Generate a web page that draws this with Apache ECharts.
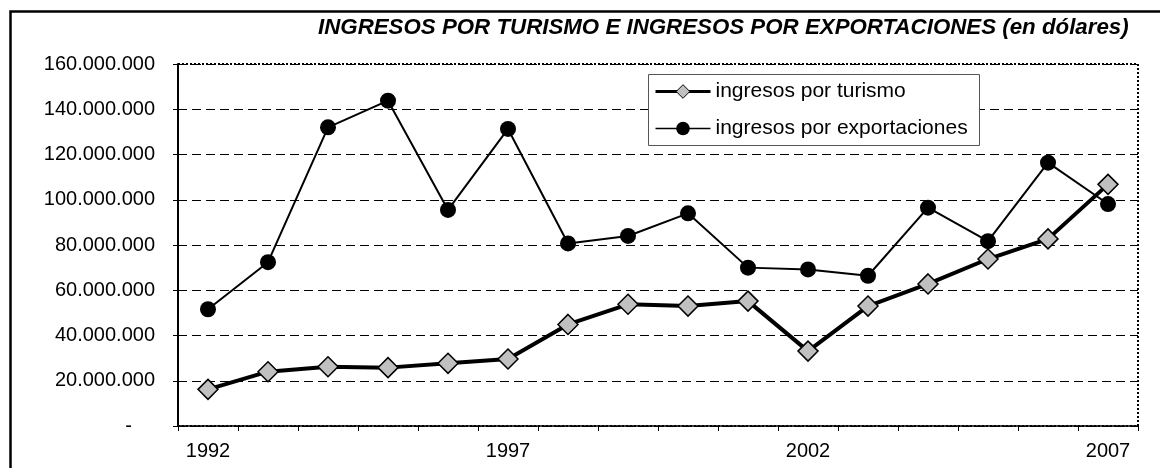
<!DOCTYPE html>
<html>
<head>
<meta charset="utf-8">
<script src="https://cdn.jsdelivr.net/npm/echarts@6/dist/echarts.min.js"></script>
<style>
html,body{margin:0;padding:0;background:#fff;}
#chart{width:1160px;height:468px;}
</style>
</head>
<body>
<div id="chart"></div>
<script>
const categories = ['1992','1993','1994','1995','1996','1997','1998','1999','2000','2001','2002','2003','2004','2005','2006','2007'];
const turismo = [16200000,24000000,26200000,25800000,27700000,29600000,44900000,53800000,53000000,55200000,33100000,53000000,62800000,73800000,82700000,106800000];
const exportaciones = [51600000,72400000,132000000,143800000,95500000,131300000,80700000,84000000,94000000,70000000,69200000,66400000,96500000,81700000,116400000,98100000];
const yTicks = [0,20000000,40000000,60000000,80000000,100000000,120000000,140000000,160000000];
const titleText = 'INGRESOS POR TURISMO E INGRESOS POR EXPORTACIONES (en dólares)';
const nameTurismo = 'ingresos por turismo';
const nameExport = 'ingresos por exportaciones';

function fmt(v){
  if (v === 0) return '{d|-}';
  return String(v).replace(/\B(?=(\d{3})+(?!\d))/g, '.');
}

const chart = echarts.init(document.getElementById('chart'), null, {renderer:'canvas'});
const font = 'Liberation Sans, Arial, sans-serif';
chart.setOption({
  animation:false,
  backgroundColor:'#fff',
  textStyle:{fontFamily:font},
  title:{
    text:titleText,
    left:318, top:17, padding:0,
    textStyle:{fontFamily:font,fontSize:22.3,fontWeight:'bold',fontStyle:'italic',color:'#000'}
  },
  graphic:[
    {type:'rect', shape:{x:10.5,y:11.5,width:1170,height:480}, style:{fill:'none',stroke:'#000',lineWidth:2.5}, z:10, silent:true},
    {type:'rect', shape:{x:648.5,y:74.5,width:331,height:71}, style:{fill:'#fff',stroke:'#555',lineWidth:1}, z:3, silent:true}
  ],
  legend:{
    data:[
      {name:nameTurismo, lineStyle:{width:3,color:'#000'}, itemStyle:{color:'#c0c0c0',borderColor:'#000',borderWidth:1}},
      {name:nameExport, lineStyle:{width:1.5,color:'#000'}, itemStyle:{color:'#000'}}
    ],
    orient:'vertical',
    left:654, top:81, padding:0,
    itemWidth:55, itemHeight:17, itemGap:16,
    z:5,
    textStyle:{fontFamily:font,fontSize:21,lineHeight:21,color:'#000'}
  },
  grid:{
    left:178, top:64, width:960, height:362,
    show:true, borderColor:'#000', borderWidth:2, borderType:'dotted', backgroundColor:'transparent'
  },
  xAxis:{
    type:'category',
    data:categories,
    boundaryGap:true,
    axisLine:{show:true,lineStyle:{color:'#000',width:2,type:'dotted'}},
    axisTick:{show:true,interval:0,length:5,lineStyle:{color:'#000',width:1}},
    axisLabel:{interval:4,margin:15,fontFamily:font,fontSize:20,color:'#000'},
    splitLine:{show:false}
  },
  yAxis:{
    type:'value',
    min:0, max:160000000, interval:20000000,
    axisLine:{show:true,lineStyle:{color:'#000',width:2,type:'dotted'}},
    axisTick:{show:true,length:5,lineStyle:{color:'#000',width:1}},
    axisLabel:{
      margin:23,fontFamily:font,fontSize:20,color:'#000',
      formatter:fmt,
      rich:{d:{fontFamily:font,fontSize:20,color:'#000',padding:[0,23,0,0]}}
    },
    splitLine:{show:true,lineStyle:{color:'#000',width:1,type:[9,5]}}
  },
  series:[
    {
      name:nameExport, type:'line', data:exportaciones,
      symbol:'circle', symbolSize:16, showAllSymbol:true,
      lineStyle:{color:'#000',width:2},
      itemStyle:{color:'#000',borderColor:'#000',borderWidth:0},
      z:2
    },
    {
      name:nameTurismo, type:'line', data:turismo,
      symbol:'diamond', symbolSize:20, showAllSymbol:true,
      lineStyle:{color:'#000',width:4},
      itemStyle:{color:'#c0c0c0',borderColor:'#000',borderWidth:1.5},
      z:3
    }
  ]
});
</script>
</body>
</html>
